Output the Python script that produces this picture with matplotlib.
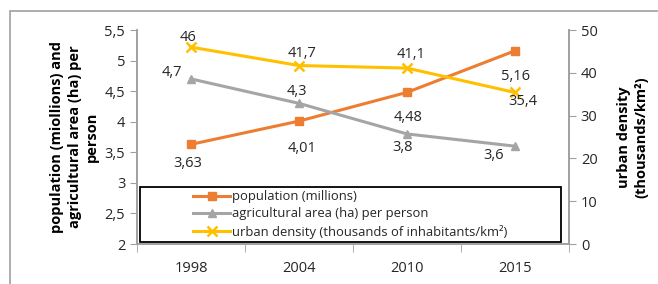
import matplotlib
matplotlib.use("Agg")
import matplotlib.pyplot as plt
from matplotlib.patches import Rectangle

years = ["1998", "2004", "2010", "2015"]
population = [3.63, 4.01, 4.48, 5.16]
agri_area = [4.7, 4.3, 3.8, 3.6]
urban_density = [46, 41.7, 41.1, 35.4]
left_ticks = [2, 2.5, 3, 3.5, 4, 4.5, 5, 5.5]
right_ticks = [0, 10, 20, 30, 40, 50]

def fmt(v):
    return ("%g" % v).replace(".", ",")

plt.rcParams['font.family'] = ['Open Sans', 'DejaVu Sans']
ORANGE = "#ED7D31"
GRAY = "#A5A5A5"
YELLOW = "#FFC000"
TXT = "#262626"
FS = 10.5

fig = plt.figure(figsize=(6.58, 2.84), dpi=100)
fig.patches.append(Rectangle((10/658, -0.1), 1.1, 1 - 11/284 + 0.1, transform=fig.transFigure,
                             fill=False, edgecolor="#A0A0A0", linewidth=1.2))
ax = fig.add_axes([137/658, 1 - 244/284, (569-137)/658, (244-30)/284])
ax2 = ax.twinx()

x = list(range(len(years)))
l1, = ax.plot(x, population, color=ORANGE, lw=2.2, marker="s", ms=6, label="population (millions)")
l2, = ax.plot(x, agri_area, color=GRAY, lw=2.2, marker="^", ms=6, label="agricultural area (ha) per person")
l3, = ax2.plot(x, urban_density, color=YELLOW, lw=2.2, marker="x", ms=7, mew=1.8,
               label="urban density (thousands of inhabitants/km²)")

ax.set_xlim(-0.5, 3.5)
ax.set_ylim(2, 5.5)
ax2.set_ylim(0, 50)
ax.set_yticks(left_ticks)
ax.set_yticklabels([fmt(v) for v in left_ticks])
ax2.set_yticks(right_ticks)
ax2.set_yticklabels([fmt(v) for v in right_ticks])
ax.set_xticks(x)
ax.set_xticklabels(years)
ax.set_xticks([-0.5, 0.5, 1.5, 2.5, 3.5], minor=True)
ax.tick_params(axis="x", which="major", length=0, pad=12, labelsize=FS, labelcolor=TXT)
ax.tick_params(axis="x", which="minor", length=6, color="#A0A0A0", direction="out")
ax.tick_params(axis="y", length=5, color="#A0A0A0", labelsize=FS, labelcolor=TXT)
ax2.tick_params(axis="y", length=5, color="#A0A0A0", labelsize=FS, labelcolor=TXT)
for a in (ax, ax2):
    a.spines["top"].set_visible(False)
    for s in ("left", "right", "bottom"):
        a.spines[s].set_color("#A0A0A0")
        a.spines[s].set_linewidth(1.2)

ax.set_ylabel("population (miollions) and\nagricultural area (ha) per\nperson", fontsize=FS,
              fontweight="bold", color="black", linespacing=1.3, labelpad=4)
ax2.set_ylabel("urban density\n(thousands/km²)", fontsize=FS, fontweight="bold", color="black",
               linespacing=1.3, labelpad=14)

# data labels (offsets in pixels)
pop_off = [(-3, -19), (3, -27), (1, -25), (0, -26)]
agri_off = [(-19, 6), (-2, 12), (-4, -14), (-21, -9)]
urb_off = [(-3, 10), (3, 12), (4, 14), (8, -9)]
for i in x:
    ax.annotate(fmt(population[i]), (i, population[i]), xytext=pop_off[i], textcoords="offset pixels",
                ha="center", va="center", fontsize=FS, color=TXT)
    ax.annotate(fmt(agri_area[i]), (i, agri_area[i]), xytext=agri_off[i], textcoords="offset pixels",
                ha="center", va="center", fontsize=FS, color=TXT)
    ax2.annotate(fmt(urban_density[i]), (i, urban_density[i]), xytext=urb_off[i], textcoords="offset pixels",
                 ha="center", va="center", fontsize=FS, color=TXT)

box = Rectangle((140/658, 1 - 242/284), (561-140)/658, (242-187)/284, transform=fig.transFigure,
                facecolor="white", edgecolor="black", linewidth=1.3, zorder=5)
fig.patches.append(box)
leg = fig.legend(handles=[l1, l2, l3], loc="center",
                 bbox_to_anchor=((140+561)/2/658, 1 - (242+187)/2/284),
                 fontsize=9.4, frameon=False, handlelength=2.8, handletextpad=0.2,
                 borderpad=0, labelspacing=0.32)
leg.set_zorder(6)
for t in leg.get_texts():
    t.set_color(TXT)

fig.savefig("out.png", dpi=100)
